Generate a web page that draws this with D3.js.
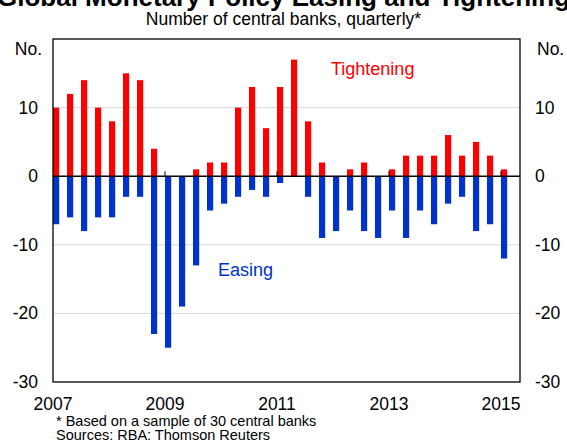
<!DOCTYPE html>
<html>
<head>
<meta charset="utf-8">
<script src="https://cdn.jsdelivr.net/npm/d3@7"></script>
<style>
  body { margin: 0; background: #fff; }
  text { font-family: "Liberation Sans", Arial, sans-serif; }
</style>
</head>
<body>
<div id="wrapper"></div>
<script>
// quarterly, 2007 Q1 .. 2015 Q1
var startYear = 2007;
var tightening = [10,12,14,10,8,15,14,4,0,0,1,2,2,10,13,7,13,17,8,2,0,1,2,0,1,3,3,3,6,3,5,3,1];
var easing = [-7,-6,-8,-6,-6,-3,-3,-23,-25,-19,-13,-5,-4,-3,-2,-3,-1,0,-3,-9,-8,-5,-8,-9,-5,-9,-5,-7,-4,-3,-8,-7,-12];
var yearTicks = [2007, 2009, 2011, 2013, 2015];
var yTicks = [-30, -20, -10, 0, 10];
var gridTicks = [-20, -10, 10];

var W = 567, H = 443;
var pl = 53, pr = 520, pt = 39, pb = 382;

var svg = d3.select('#wrapper').append('svg')
  .attr('width', W).attr('height', H);

var x = d3.scaleLinear().domain([2007, 2015.34]).range([pl, pr]);
var y = d3.scaleLinear().domain([-30, 20]).range([pb, pt]);

// grid
svg.append('g').selectAll('line').data(gridTicks).enter().append('line')
  .attr('x1', pl).attr('x2', pr)
  .attr('y1', function(d){ return y(d); }).attr('y2', function(d){ return y(d); })
  .style('stroke', '#d9d9d9').style('stroke-width', '1px');

var qx = function(i){ return x(startYear + i / 4); };
var bw = 6.2;

svg.append('g').selectAll('rect').data(tightening).enter().append('rect')
  .attr('x', function(d,i){ return qx(i); })
  .attr('width', bw)
  .attr('y', function(d){ return y(d); })
  .attr('height', function(d){ return y(0) - y(d); })
  .style('fill', '#ff0000');

svg.append('g').selectAll('rect').data(easing).enter().append('rect')
  .attr('x', function(d,i){ return qx(i); })
  .attr('width', bw)
  .attr('y', y(0))
  .attr('height', function(d){ return y(d) - y(0); })
  .style('fill', '#0033cc');

// zero line + year ticks
svg.append('line').attr('x1', pl).attr('x2', pr).attr('y1', y(0)).attr('y2', y(0))
  .style('stroke', '#000').style('stroke-width', '1.5px');
svg.append('g').selectAll('line').data(yearTicks.slice(1)).enter().append('line')
  .attr('x1', function(d){ return x(d); }).attr('x2', function(d){ return x(d); })
  .attr('y1', y(0)).attr('y2', y(0) - 5)
  .style('stroke', '#000').style('stroke-width', '1px');

// frame
svg.append('rect').attr('x', pl).attr('y', pt)
  .attr('width', pr - pl).attr('height', pb - pt)
  .style('fill', 'none').style('stroke', '#000').style('stroke-width', '1.3px');

// y labels both sides
var yl = svg.append('g').style('font-size', '17.5px');
yl.selectAll('text.l').data(yTicks).enter().append('text')
  .attr('x', pl - 15).attr('y', function(d){ return y(d) + 6; })
  .attr('text-anchor', 'end').text(function(d){ return d; });
yl.selectAll('text.r').data(yTicks).enter().append('text')
  .attr('x', pr + 15).attr('y', function(d){ return y(d) + 6; })
  .attr('text-anchor', 'start').text(function(d){ return d; });
yl.append('text').attr('x', pl - 11).attr('y', 55).attr('text-anchor', 'end').text('No.');
yl.append('text').attr('x', pr + 17).attr('y', 55).text('No.');

// x labels
svg.append('g').style('font-size', '17.5px').selectAll('text').data(yearTicks).enter().append('text')
  .attr('x', function(d){ return x(d); }).attr('y', 410)
  .attr('text-anchor', 'middle').text(function(d){ return d; });

// titles
svg.append('text').attr('x', W/2).attr('y', 6).attr('text-anchor', 'middle')
  .style('font-size', '26px').style('font-weight', 'bold')
  .text('Global Monetary Policy Easing and Tightening');
svg.append('text').attr('x', W/2).attr('y', 25).attr('text-anchor', 'middle')
  .style('font-size', '17.5px').text('Number of central banks, quarterly*');

// series labels
svg.append('text').attr('x', 331).attr('y', 75).style('font-size', '18px').style('fill', '#ff0000').text('Tightening');
svg.append('text').attr('x', 218).attr('y', 276).style('font-size', '18px').style('fill', '#0033cc').text('Easing');

// notes
svg.append('text').attr('x', 56).attr('y', 426).style('font-size', '14.5px').text('* Based on a sample of 30 central banks');
svg.append('text').attr('x', 56).attr('y', 440).style('font-size', '14.5px').text('Sources: RBA: Thomson Reuters');
</script>
</body>
</html>
